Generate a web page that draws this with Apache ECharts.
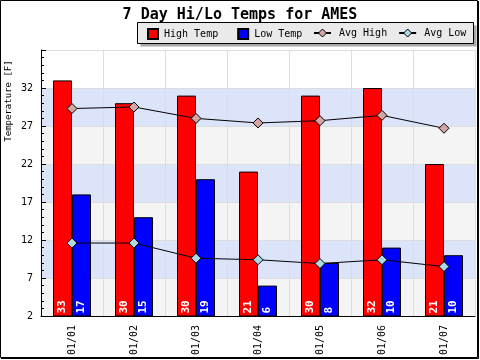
<!DOCTYPE html>
<html>
<head>
<meta charset="utf-8">
<script src="https://cdn.jsdelivr.net/npm/echarts@6/dist/echarts.min.js"></script>
<style>html,body{margin:0;padding:0;background:#fff}#c{width:480px;height:360px}</style>
</head>
<body>
<div id="c"></div>
<script>
const days = ['01/01','01/02','01/03','01/04','01/05','01/06','01/07'];
const highTemp = [33, 30, 31, 21, 31, 32, 22];
const lowTemp = [18, 15, 20, 6, 9, 11, 10];
const highLabels = [33, 30, 30, 21, 30, 32, 21];
const lowLabels = [17, 15, 19, 6, 8, 10, 10];
const avgHigh = [29.3, 29.5, 28.0, 27.4, 27.7, 28.4, 26.7];
const avgLow = [11.6, 11.6, 9.6, 9.4, 8.9, 9.4, 8.5];
const yTicks = {min: 2, max: 37, step: 5};

const MONO = '"DejaVu Sans Mono", monospace';
const HI_MARK = '#d4a5a5', LO_MARK = '#add8e6';
const chart = echarts.init(document.getElementById('c'), null, {renderer: 'canvas'});

function barLabel(labels) {
  return {
    show: true, position: 'insideBottom', rotate: 90, align: 'left', verticalAlign: 'middle',
    distance: 3, color: '#fff', fontWeight: 'bold', fontSize: 11, fontFamily: MONO,
    formatter: p => String(labels[p.dataIndex])
  };
}

chart.setOption({
  animation: false,
  backgroundColor: '#fff',
  title: {
    text: '7 Day Hi/Lo Temps for AMES', left: 'center', top: 3,
    textStyle: {fontFamily: MONO, fontSize: 15, fontWeight: 'bold', color: '#000'}
  },
  legend: [
    {
      data: ['High Temp', 'Low Temp'], left: 147, top: 28, padding: 0, icon: 'rect',
      itemWidth: 10, itemHeight: 10, itemGap: 19,
      textStyle: {fontFamily: MONO, fontSize: 10, color: '#000', padding: [0, 0, 0, 1]}
    },
    {
      data: [
        {name: 'Avg High', itemStyle: {color: HI_MARK, borderColor: '#000', borderWidth: 1}},
        {name: 'Avg Low', itemStyle: {color: LO_MARK, borderColor: '#000', borderWidth: 1}}
      ],
      left: 313, top: 28, padding: 0,
      itemWidth: 17, itemHeight: 10, itemGap: 11,
      textStyle: {fontFamily: MONO, fontSize: 10, color: '#000', padding: [0, 0, 0, 3]}
    }
  ],
  grid: {left: 41, right: 5, top: 50, bottom: 44, containLabel: false},
  xAxis: {
    type: 'category', data: days, boundaryGap: true,
    axisLine: {lineStyle: {color: '#000', width: 1}},
    axisTick: {inside: true, length: 5, lineStyle: {color: '#000'}},
    splitLine: {show: true, lineStyle: {color: '#dddddd', width: 1}},
    axisLabel: {rotate: 90, margin: 9, fontFamily: MONO, fontSize: 10, color: '#000'}
  },
  yAxis: {
    type: 'value', min: yTicks.min, max: yTicks.max, interval: yTicks.step,
    axisLine: {show: true, lineStyle: {color: '#000', width: 1}},
    axisTick: {show: true, inside: true, length: 5, lineStyle: {color: '#000'}},
    minorTick: {show: true, splitNumber: 5, length: 3, lineStyle: {color: '#000'}},
    splitLine: {show: true, lineStyle: {color: '#dddddd', width: 1}},
    splitArea: {show: true, areaStyle: {color: ['#f4f4f4', '#dce4fa', '#f4f4f4', '#dce4fa', '#f4f4f4', '#dce4fa', '#ffffff']}},
    axisLabel: {margin: 8, fontFamily: MONO, fontSize: 10, color: '#000', showMaxLabel: false}
  },
  series: [
    {
      name: 'High Temp', type: 'bar', data: highTemp, barWidth: 19, barGap: '0%',
      itemStyle: {color: '#ff0000', borderColor: '#000', borderWidth: 1},
      label: barLabel(highLabels)
    },
    {
      name: 'Low Temp', type: 'bar', data: lowTemp, barWidth: 19, barGap: '0%',
      itemStyle: {color: '#0000ff', borderColor: '#000', borderWidth: 1},
      label: barLabel(lowLabels)
    },
    {
      name: 'Avg High', type: 'line', data: avgHigh, symbol: 'diamond', symbolSize: 10,
      lineStyle: {color: '#000', width: 1},
      itemStyle: {color: HI_MARK, borderColor: '#000', borderWidth: 1}
    },
    {
      name: 'Avg Low', type: 'line', data: avgLow, symbol: 'diamond', symbolSize: 10,
      lineStyle: {color: '#000', width: 1},
      itemStyle: {color: LO_MARK, borderColor: '#000', borderWidth: 1}
    }
  ],
  graphic: [
    {type: 'rect', z: -10, silent: true, shape: {x: 140.5, y: 25.5, width: 336, height: 21}, style: {fill: '#a8a8a8'}},
    {type: 'rect', z: -9, silent: true, shape: {x: 137.5, y: 22.5, width: 336, height: 21}, style: {fill: '#eaeaea', stroke: '#000', lineWidth: 1}},
    {type: 'text', silent: true, x: 9, y: 101, rotation: Math.PI / 2,
      style: {text: 'Temperature [F]', font: '9px ' + MONO, fill: '#000', align: 'center', verticalAlign: 'middle'}},
    {type: 'rect', silent: true, shape: {x: 0.5, y: 0.5, width: 477, height: 357}, style: {fill: 'none', stroke: '#000', lineWidth: 1}},
    {type: 'polyline', silent: true, shape: {points: [[478.5, 1], [478.5, 358.5], [1, 358.5]]}, style: {fill: 'none', stroke: '#000', lineWidth: 1}}
  ]
});
</script>
</body>
</html>
